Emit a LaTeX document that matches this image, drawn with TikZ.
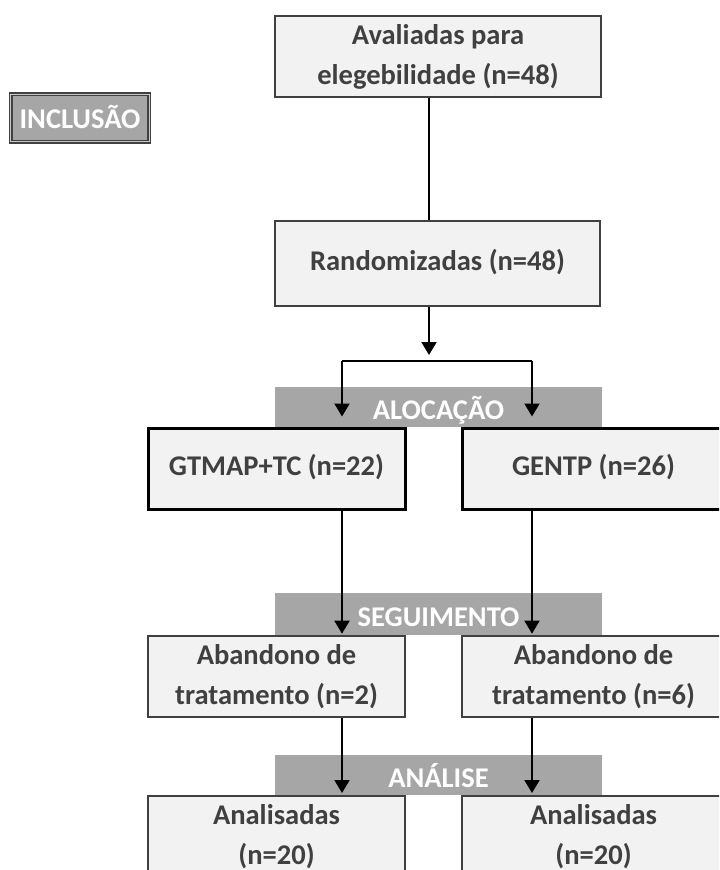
\documentclass[tikz,border=0pt]{standalone}
\usepackage{fontspec}
\setmainfont{Carlito}
\usetikzlibrary{arrows.meta}

\definecolor{boxfill}{RGB}{242,242,242}
\definecolor{boxline}{RGB}{64,64,64}
\definecolor{barfill}{RGB}{166,166,166}
\definecolor{txtgray}{RGB}{64,64,64}

\tikzset{
  box/.style={draw=boxline, line width=1.5pt, fill=boxfill, text=txtgray, inner sep=0pt,
    font=\bfseries\fontsize{21.4}{30}\selectfont, align=center,
    minimum width=192.75pt, minimum height=60.75pt},
  boxone/.style={box, text height=15.5pt, text depth=5pt},
  groupbox/.style={boxone, draw=black, line width=2.25pt},
  bar/.style={fill=barfill, text=white, inner sep=0pt, font=\bfseries\fontsize{21.4}{30}\selectfont,
    minimum width=245.25pt, minimum height=30pt, text height=18pt, text depth=0pt},
  conn/.style={line width=1.5pt, black},
  arr/.style={conn, -{Triangle[width=11.25pt,length=9.75pt]}}
}

\begin{document}
\begin{tikzpicture}[x=0.75pt,y=0.75pt,yscale=-1,xscale=1]
\useasboundingbox (0,0) rectangle (719,870);
\clip (0,0) rectangle (719,870);

%Shape: Rectangle (inclusao)
\node [fill=barfill, text=white, draw=boxline, double=barfill!60!white, double distance=1.2pt, line width=1pt,
  inner sep=0pt, minimum width=104pt, minimum height=35.5pt, text height=16pt, text depth=0pt,
  font=\bfseries\fontsize{21.4}{30}\selectfont] (incl) at (80,118) {INCLUSÃO};

%Shape: Rectangle (avaliadas)
\node [box, minimum width=244.5pt] (aval) at (438,56.5) {Avaliadas para\\elegebilidade (n=48)};
%Shape: Rectangle (randomizadas)
\node [boxone, minimum width=243.75pt, minimum height=63.75pt] (rand) at (437.5,263.5) {Randomizadas (n=48)};

%Shape: Bars
\node [bar] (aloc) at (438.5,407) {ALOCAÇÃO};
\node [bar, minimum height=31.5pt] (segu) at (438.5,614) {SEGUIMENTO};
\node [bar] (anal) at (438.5,775) {ANÁLISE};

%Shape: Rectangle (groups)
\node [groupbox] (gtmap) at (276.5,468.5) {GTMAP+TC (n=22)};
\node [groupbox, minimum width=197.25pt] (gentp) at (593.5,468.5) {GENTP (n=26)};

%Shape: Rectangle (abandono)
\node [box] (abanL) at (276.5,676.5) {Abandono de\\tratamento (n=2)};
\node [box, minimum width=197.25pt] (abanR) at (593.5,676.5) {Abandono de\\tratamento (n=6)};

%Shape: Rectangle (analisadas)
\node [box] (analL) at (276.5,836.5) {Analisadas\\(n=20)};
\node [box, minimum width=197.25pt] (analR) at (593.5,836.5) {Analisadas\\(n=20)};

%Straight Lines
\coordinate (fork) at (429,361);
\coordinate (forkL) at (342,361);
\coordinate (forkR) at (532,361);
\draw [conn] (aval.south -| fork) -- (rand.north -| fork);
\draw [arr, shorten >=4.5pt] (rand.south -| fork) -- (fork);
\draw [conn] (forkL) -- (forkR);
\draw [arr, shorten >=7.5pt] (forkL) -- (gtmap.north -| forkL);
\draw [arr, shorten >=7.5pt] (forkR) -- (gentp.north -| forkR);
\draw [arr, shorten >=1pt] (gtmap.south -| forkL) -- (abanL.north -| forkL);
\draw [arr, shorten >=1pt] (gentp.south -| forkR) -- (abanR.north -| forkR);
\draw [arr, shorten >=1.5pt] (abanL.south -| forkL) -- (analL.north -| forkL);
\draw [arr, shorten >=1.5pt] (abanR.south -| forkR) -- (analR.north -| forkR);

\end{tikzpicture}
\end{document}
